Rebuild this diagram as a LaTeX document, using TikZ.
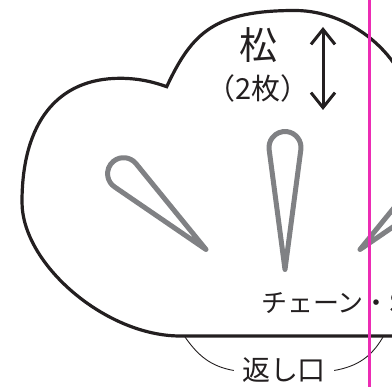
\documentclass[tikz,border=0pt]{standalone}
\usepackage{fontspec}
\usepackage{tikz}
\usetikzlibrary{arrows.meta}
\newfontfamily\jpfont{Noto Sans CJK JP}
\definecolor{ink}{RGB}{35,31,32}
\definecolor{leaf}{RGB}{128,129,132}
\definecolor{trim}{RGB}{236,44,180}

\begin{document}
\begin{tikzpicture}[x=1pt, y=1pt,
    outline/.style = {draw=ink, line width=3.2pt},
    jptext/.style = {text=ink, inner sep=0pt, font=\jpfont\fontsize{#1}{#1}\selectfont},
    needle/.pic = {
        \pgfmathsetmacro\tang{acos(16/#1)-90}
        \draw[leaf, line width=5pt, line cap=round, line join=round]
            (0,0) -- ({16*cos(\tang)},{#1+16*sin(\tang)})
            arc[start angle=\tang, end angle=180-\tang, radius=16pt] -- cycle;
    }]
    \useasboundingbox (0,0) rectangle (392,387);
    \clip (0,0) rectangle (392,387);

    \draw[outline] (180,51) .. controls (106.2,51) and (22,122.4) .. (22,185)
        .. controls (22,264.2) and (57.3,308.7) .. (120,308.7)
        .. controls (140,308.7) and (155,304.5) .. (166.7,300.3)
        .. controls (192.1,354.7) and (215,376.5) .. (295,376.5)
        .. controls (355,376.5) and (412,325) .. (412,270)
        -- (412,51) -- cycle;

    \pic[rotate=47.4] at (206,137.5) {needle=112};
    \pic at (285,117.5) {needle=122};
    \pic[rotate=-47.4] at (360,137.5) {needle=112};

    \node[jptext=38] (pine) at (258,342) {松};
    \node[jptext=29] (count) at (258,299) {（2枚）};
    \coordinate (hightop) at (323,360);
    \coordinate (highbot) at (323,277);
    \draw[ink, line width=3pt, {Straight Barb[length=15pt,width=24pt]}-{Straight Barb[length=15pt,width=24pt]}] (hightop) -- (highbot);

    \node[jptext=26, anchor=west] (chain) at (261,84) {チェーン・S};

    \node[jptext=28, inner xsep=8pt] (opening) at (284,16.5) {返し口};
    \coordinate (gapleft) at (185,50);
    \coordinate (gapright) at (383,50);
    \draw[ink, line width=0.9pt] (gapleft) to[out=-55, in=170] (opening.west);
    \draw[ink, line width=0.9pt] (opening.east) to[out=10, in=-120] (gapright);

    \draw[trim, line width=2.6pt] (369.3,0) -- (369.3,387);
\end{tikzpicture}
\end{document}
